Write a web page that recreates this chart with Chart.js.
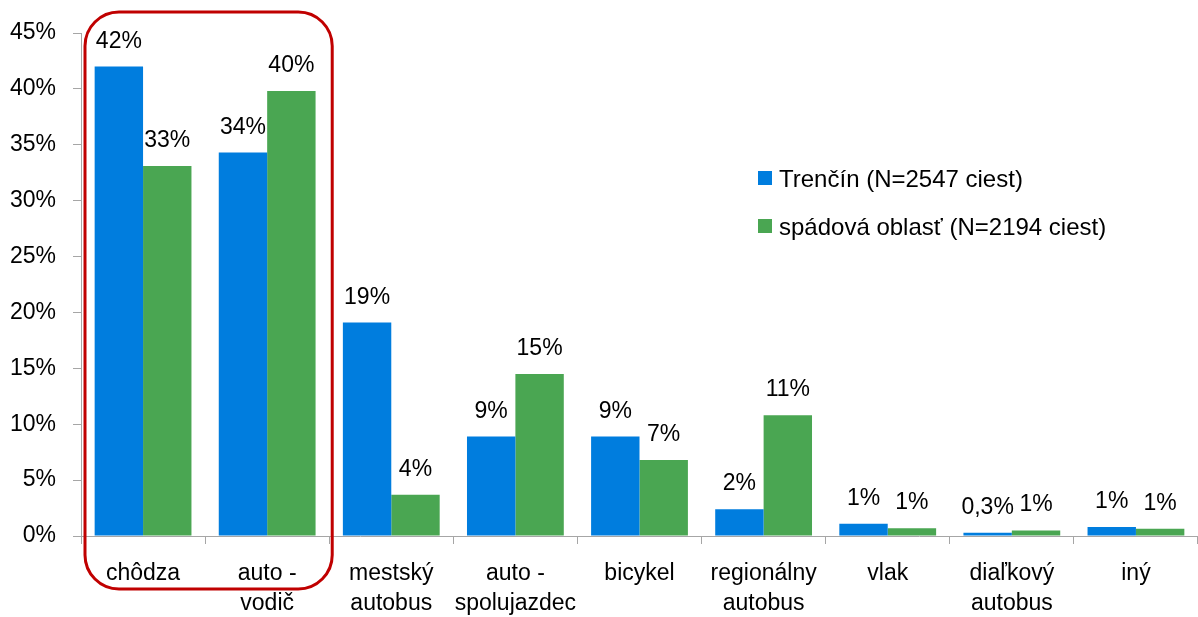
<!DOCTYPE html>
<html lang="sk">
<head>
  <meta charset="UTF-8">
  <title>Deľba prepravnej práce</title>
  <script src="https://cdn.jsdelivr.net/npm/chart.js"></script>
  <style>
    html, body {
      margin: 0;
      padding: 0;
      background: #ffffff;
    }
    #wrap {
      position: relative;
      width: 1198px;
      height: 617px;
    }
  </style>
</head>
<body>
  <div id="wrap"><canvas id="modalChart" width="1198" height="617"></canvas></div>

  <script>
    // data
    var categories = [
      ['chôdza'],
      ['auto -', 'vodič'],
      ['mestský', 'autobus'],
      ['auto -', 'spolujazdec'],
      ['bicykel'],
      ['regionálny', 'autobus'],
      ['vlak'],
      ['diaľkový', 'autobus'],
      ['iný']
    ];
    var trencinValues = [42.0, 34.3, 19.1, 8.9, 8.9, 2.4, 1.1, 0.3, 0.8];
    var spadovaValues = [33.1, 39.8, 3.7, 14.5, 6.8, 10.8, 0.7, 0.5, 0.65];
    var seriesNames = ['Trenčín (N=2547 ciest)', 'spádová oblasť (N=2194 ciest)'];
    var seriesColors = ['#007dde', '#4aa652'];
    var yTicks = [0, 5, 10, 15, 20, 25, 30, 35, 40, 45];

    var FONT = '"Liberation Sans", Arial, sans-serif';
    var AXIS = '#a6a6a6';

    function pctLabel(v) {
      if (v < 0.5) return v.toFixed(1).replace('.', ',') + '%';
      return Math.round(v) + '%';
    }

    // value labels above the bars
    var valueLabels = {
      id: 'valueLabels',
      afterDatasetsDraw: function (chart) {
        var ctx = chart.ctx;
        ctx.save();
        ctx.font = '23px ' + FONT;
        ctx.fillStyle = '#000';
        ctx.textAlign = 'center';
        ctx.textBaseline = 'alphabetic';
        chart.data.datasets.forEach(function (ds, i) {
          chart.getDatasetMeta(i).data.forEach(function (bar, j) {
            ctx.fillText(pctLabel(ds.data[j]), bar.x, bar.y - 19);
          });
        });
        ctx.restore();
      }
    };

    // legend inside the plot + red highlight box
    var extras = {
      id: 'extras',
      afterDraw: function (chart) {
        var ctx = chart.ctx;
        var x = chart.scales.x;
        var area = chart.chartArea;
        ctx.save();

        ctx.font = '24px ' + FONT;
        ctx.textAlign = 'left';
        ctx.textBaseline = 'alphabetic';
        chart.data.datasets.forEach(function (ds, i) {
          var top = 171 + i * 48;
          ctx.fillStyle = ds.backgroundColor;
          ctx.fillRect(758, top, 14, 14);
          ctx.fillStyle = '#000';
          ctx.fillText(ds.label, 779, top + 16);
        });

        // box round the first two categories
        var half = (x.getPixelForValue(1) - x.getPixelForValue(0)) / 2;
        var left = x.getPixelForValue(0) - half + 4;
        var right = x.getPixelForValue(1) + half + 3;
        var top = 12;
        var bottom = area.bottom + 53;
        ctx.strokeStyle = '#c00000';
        ctx.lineWidth = 3;
        ctx.beginPath();
        ctx.roundRect(left, top, right - left, bottom - top, 34);
        ctx.stroke();
        ctx.restore();
      }
    };

    var ctx = document.getElementById('modalChart').getContext('2d');

    new Chart(ctx, {
      type: 'bar',
      data: {
        labels: categories,
        datasets: [
          {
            label: seriesNames[0],
            data: trencinValues,
            backgroundColor: seriesColors[0],
            categoryPercentage: 0.78,
            barPercentage: 1.0
          },
          {
            label: seriesNames[1],
            data: spadovaValues,
            backgroundColor: seriesColors[1],
            categoryPercentage: 0.78,
            barPercentage: 1.0
          }
        ]
      },
      options: {
        responsive: false,
        animation: false,
        devicePixelRatio: 1,
        layout: {
          padding: { top: 33, right: 0, bottom: 0, left: 0 }
        },
        plugins: {
          legend: { display: false },
          tooltip: { enabled: false }
        },
        scales: {
          x: {
            grid: {
              display: true,
              offset: true,
              drawOnChartArea: false,
              tickLength: 8,
              color: AXIS
            },
            border: { color: AXIS, width: 1 },
            ticks: {
              color: '#000',
              font: { family: FONT, size: 23, lineHeight: 1.33 },
              padding: 14,
              maxRotation: 0,
              autoSkip: false
            },
            afterFit: function (scale) {
              scale.height = 81;
            }
          },
          y: {
            min: 0,
            max: 45,
            afterBuildTicks: function (scale) {
              scale.ticks = yTicks.map(function (v) { return { value: v }; });
            },
            grid: {
              display: true,
              drawOnChartArea: false,
              tickLength: 8,
              color: AXIS
            },
            border: { color: AXIS, width: 1 },
            ticks: {
              color: '#000',
              font: { family: FONT, size: 23 },
              padding: 17,
              callback: function (v) { return v + '%'; }
            },
            afterFit: function (scale) {
              scale.width = 81;
            }
          }
        }
      },
      plugins: [valueLabels, extras]
    });
  </script>
</body>
</html>
